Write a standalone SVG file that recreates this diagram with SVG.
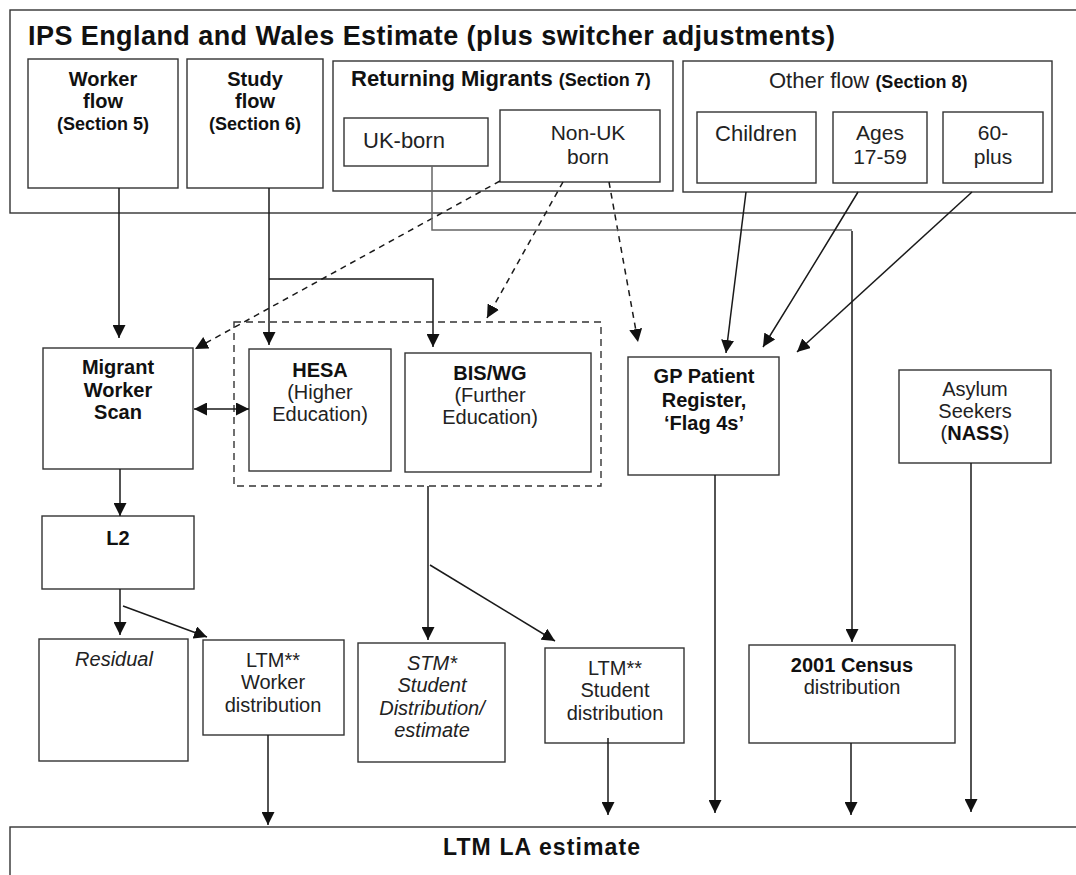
<svg xmlns="http://www.w3.org/2000/svg" width="1076" height="875" viewBox="0 0 1076 875">
<defs>
<marker id="ah" viewBox="0 0 12 12" refX="12" refY="6" markerWidth="13" markerHeight="13" markerUnits="userSpaceOnUse" orient="auto-start-reverse">
<path d="M0,0 L12,6 L0,12 z" fill="#111"/>
</marker>
<style>
.box{fill:#fff;stroke:#333;stroke-width:1.4}
.dbox{fill:none;stroke:#333;stroke-width:1.4;stroke-dasharray:7,5}
.t{font-family:"Liberation Sans",Arial,sans-serif;font-size:20px;fill:#222;text-anchor:middle}
.b{font-weight:bold;fill:#111}
.s{font-size:18px}
.i{font-style:italic}
.big{font-size:22px}
.mid{font-size:21px}
.c{fill:none;stroke:#1a1a1a;stroke-width:1.5}
.cd{fill:none;stroke:#1a1a1a;stroke-width:1.5;stroke-dasharray:6,5}
.g{fill:none;stroke:#666;stroke-width:1.5}
</style>
</defs>
<rect width="1076" height="875" fill="#fff"/>

<g id="ips">
<rect class="box" x="10" y="10" width="1080" height="203"/>
<text class="t b" x="28" y="45" style="text-anchor:start;font-size:27px" textLength="807" lengthAdjust="spacing">IPS England and Wales Estimate (plus switcher adjustments)</text>
</g>

<g id="worker-flow">
<rect class="box" x="28" y="59" width="150" height="129"/>
<text class="t b" x="103" y="86">Worker</text>
<text class="t b" x="103" y="108">flow</text>
<text class="t b s" x="103" y="130">(Section 5)</text>
</g>

<g id="study-flow">
<rect class="box" x="187" y="59" width="136" height="129"/>
<text class="t b" x="255" y="86">Study</text>
<text class="t b" x="255" y="108">flow</text>
<text class="t b s" x="255" y="130">(Section 6)</text>
</g>

<g id="returning-migrants">
<rect class="box" x="333" y="61" width="340" height="130"/>
<text class="t b" x="351" y="86" style="text-anchor:start"><tspan class="big">Returning Migrants </tspan><tspan class="s">(Section 7)</tspan></text>
</g>

<g id="uk-born">
<rect class="box" x="344" y="118" width="144" height="48"/>
<text class="t big" x="363" y="148" style="text-anchor:start">UK-born</text>
</g>

<g id="non-uk-born">
<rect class="box" x="500" y="110" width="160" height="72"/>
<text class="t mid" x="588" y="140">Non-UK</text>
<text class="t mid" x="588" y="164">born</text>
</g>

<g id="other-flow">
<rect class="box" x="683" y="61" width="369" height="131"/>
<text class="t" x="769" y="88" style="text-anchor:start"><tspan class="big">Other flow </tspan><tspan class="b s">(Section 8)</tspan></text>
</g>

<g id="children">
<rect class="box" x="697" y="112" width="119" height="71"/>
<text class="t big" x="756" y="141">Children</text>
</g>

<g id="ages">
<rect class="box" x="833" y="112" width="94" height="71"/>
<text class="t mid" x="880" y="140">Ages</text>
<text class="t mid" x="880" y="164">17-59</text>
</g>

<g id="sixty-plus">
<rect class="box" x="943" y="112" width="100" height="71"/>
<text class="t mid" x="993" y="140">60-</text>
<text class="t mid" x="993" y="164">plus</text>
</g>

<g id="migrant-worker-scan">
<rect class="box" x="43" y="348" width="150" height="121"/>
<text class="t b" x="118" y="374">Migrant</text>
<text class="t b" x="118" y="397">Worker</text>
<text class="t b" x="118" y="419">Scan</text>
</g>

<g id="education-group">
<rect class="dbox" x="234" y="322" width="367" height="164"/>
</g>

<g id="hesa">
<rect class="box" x="249" y="349" width="142" height="122"/>
<text class="t b" x="320" y="377">HESA</text>
<text class="t" x="320" y="399">(Higher</text>
<text class="t" x="320" y="421">Education)</text>
</g>

<g id="bis-wg">
<rect class="box" x="405" y="353" width="186" height="119"/>
<text class="t b" x="490" y="380">BIS/WG</text>
<text class="t" x="490" y="402">(Further</text>
<text class="t" x="490" y="424">Education)</text>
</g>

<g id="gp-register">
<rect class="box" x="628" y="357" width="151" height="118"/>
<text class="t b" x="704" y="383">GP Patient</text>
<text class="t b" x="704" y="407">Register,</text>
<text class="t b" x="704" y="430">‘Flag 4s’</text>
</g>

<g id="asylum">
<rect class="box" x="899" y="370" width="152" height="93"/>
<text class="t" x="975" y="396">Asylum</text>
<text class="t" x="975" y="418">Seekers</text>
<text class="t" x="975" y="440">(<tspan class="b">NASS</tspan>)</text>
</g>

<g id="l2">
<rect class="box" x="42" y="516" width="152" height="73"/>
<text class="t b" x="118" y="545">L2</text>
</g>

<g id="residual">
<rect class="box" x="39" y="639" width="149" height="122"/>
<text class="t i" x="114" y="666">Residual</text>
</g>

<g id="ltm-worker">
<rect class="box" x="203" y="640" width="141" height="95"/>
<text class="t" x="273" y="667">LTM**</text>
<text class="t" x="273" y="689">Worker</text>
<text class="t" x="273" y="712">distribution</text>
</g>

<g id="stm-student">
<rect class="box" x="358" y="643" width="147" height="119"/>
<text class="t i" x="432" y="670">STM*</text>
<text class="t i" x="432" y="692">Student</text>
<text class="t i" x="432" y="715">Distribution/</text>
<text class="t i" x="432" y="737">estimate</text>
</g>

<g id="ltm-student">
<rect class="box" x="545" y="648" width="139" height="95"/>
<text class="t" x="615" y="675">LTM**</text>
<text class="t" x="615" y="697">Student</text>
<text class="t" x="615" y="720">distribution</text>
</g>

<g id="census">
<rect class="box" x="749" y="645" width="206" height="98"/>
<text class="t b" x="852" y="672">2001 Census</text>
<text class="t" x="852" y="694">distribution</text>
</g>

<g id="ltm-la">
<rect class="box" x="10" y="827" width="1080" height="60"/>
<text class="t b" x="443" y="855" style="text-anchor:start;font-size:23px" textLength="197" lengthAdjust="spacing">LTM LA estimate</text>
</g>

<g id="connectors">
<path class="c" d="M119,188 V338" marker-end="url(#ah)"/>
<path class="c" d="M269,188 V345" marker-end="url(#ah)"/>
<path class="c" d="M269,279 H433 V347" marker-end="url(#ah)"/>
<path class="c" d="M194,409 H249" marker-start="url(#ah)" marker-end="url(#ah)"/>
<path class="cd" d="M500,181 L195,349" marker-end="url(#ah)"/>
<path class="cd" d="M563,182 L487,318" marker-end="url(#ah)"/>
<path class="cd" d="M609,182 L638,342" marker-end="url(#ah)"/>
<path class="g" d="M432,166 V230 H852"/>
<path class="c" d="M852,231 V642" marker-end="url(#ah)"/>
<path class="c" d="M746,192 L726,353" marker-end="url(#ah)"/>
<path class="c" d="M858,192 Q812,268 763,347" marker-end="url(#ah)"/>
<path class="c" d="M972,192 L797,352" marker-end="url(#ah)"/>
<path class="c" d="M715,475 V813" marker-end="url(#ah)"/>
<path class="c" d="M971,463 V812" marker-end="url(#ah)"/>
<path class="c" d="M851,743 V815" marker-end="url(#ah)"/>
<path class="c" d="M120,469 V516" marker-end="url(#ah)"/>
<path class="c" d="M120,589 V635" marker-end="url(#ah)"/>
<path class="c" d="M123,606 L207,637" marker-end="url(#ah)"/>
<path class="c" d="M268,735 V825" marker-end="url(#ah)"/>
<path class="c" d="M428,486 V640" marker-end="url(#ah)"/>
<path class="c" d="M430,565 L555,641" marker-end="url(#ah)"/>
<path class="c" d="M608,738 V815" marker-end="url(#ah)"/>
</g>
</svg>
